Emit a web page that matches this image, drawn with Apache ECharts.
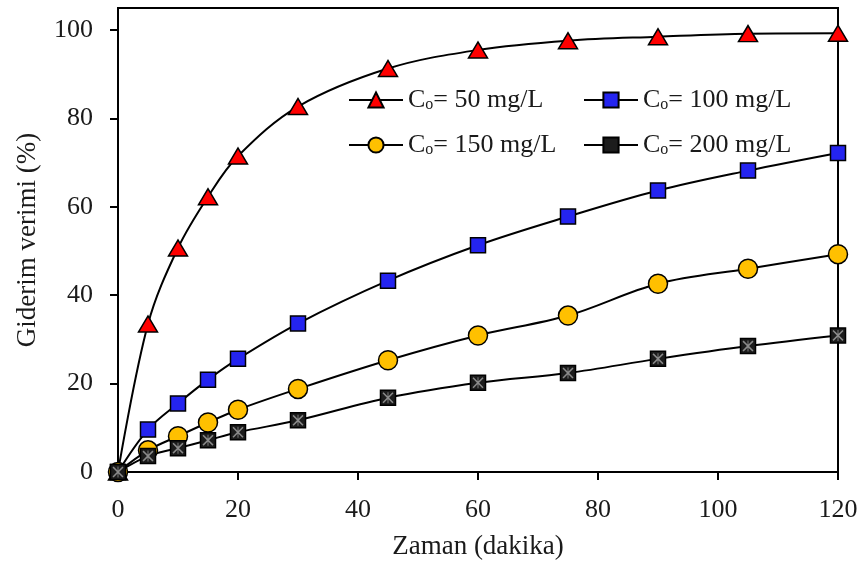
<!DOCTYPE html>
<html>
  <head>
    <meta charset="UTF-8" />
    <title>Giderim verimi</title>
    <script src="https://cdn.jsdelivr.net/npm/echarts@6/dist/echarts.min.js"></script>
    <style>
      html, body { margin: 0; padding: 0; background: #fff; }
      #main { width: 862px; height: 565px; }
    </style>
  </head>
  <body>
    <div id="main"></div>
    <script>
      // zaman (dakika)
      const times = [0, 5, 10, 15, 20, 30, 45, 60, 75, 90, 105, 120]
      // giderim verimi (%)
      const c50 = [0, 33.5, 50.7, 62.3, 71.5, 82.7, 91.3, 95.5, 97.6, 98.5, 99.2, 99.3]
      const c100 = [0, 9.6, 15.5, 20.9, 25.6, 33.6, 43.3, 51.3, 57.8, 63.7, 68.2, 72.2]
      const c150 = [0, 4.9, 8.1, 11.2, 14.1, 18.8, 25.3, 30.9, 35.4, 42.6, 46.0, 49.3]
      const c200 = [0, 3.6, 5.4, 7.2, 9.0, 11.7, 16.8, 20.2, 22.4, 25.6, 28.5, 30.9]
      const names = ['C0= 50 mg/L', 'C0= 100 mg/L', 'C0= 150 mg/L', 'C0= 200 mg/L']
      const xTicks = [0, 20, 40, 60, 80, 100, 120]
      const yTicks = [0, 20, 40, 60, 80, 100]

      const font = '"Liberation Serif", "Times New Roman", serif'

      let pairs = function (ys) {
        return times.map((t, i) => [t, ys[i]])
      }

      let lineSeries = function (name, ys, symbol, size, color) {
        return {
          name: name,
          type: 'line',
          data: pairs(ys),
          smooth: 0.35,
          symbol: symbol,
          symbolSize: size,
          showAllSymbol: true,
          lineStyle: { color: '#000', width: 2 },
          itemStyle: { color: color, borderColor: '#000', borderWidth: 1.5 },
          z: 3,
        }
      }

      const legendText = {
        fontFamily: font,
        fontSize: 26,
        color: '#1a1a1a',
        rich: {
          c: { fontFamily: font, fontSize: 26, color: '#1a1a1a' },
          s: { fontFamily: font, fontSize: 16, color: '#1a1a1a', padding: [9, 0, 0, 0] },
        },
      }
      let legendFormat = function (name) {
        return '{c|C}{s|o}{c|' + name.slice(2) + '}'
      }

      let legend = function (data, left) {
        return {
          data: data,
          orient: 'vertical',
          left: left,
          top: 87,
          itemWidth: 54,
          itemHeight: 19,
          itemGap: 19,
          padding: 0,
          selectedMode: false,
          textStyle: legendText,
          formatter: legendFormat,
        }
      }

      const myChart = echarts.init(document.getElementById('main'))
      myChart.setOption({
        animation: false,
        backgroundColor: '#fff',
        grid: {
          left: 118,
          right: 24,
          top: 8,
          bottom: 89,
          show: true,
          borderColor: '#000',
          borderWidth: 2,
        },
        legend: [legend([names[0], names[2]], 348), legend([names[1], names[3]], 583)],
        xAxis: {
          type: 'value',
          min: 0,
          max: 120,
          interval: 20,
          name: 'Zaman (dakika)',
          nameLocation: 'middle',
          nameGap: 61,
          nameTextStyle: { fontFamily: font, fontSize: 27, color: '#1a1a1a' },
          axisLine: { onZero: false, lineStyle: { color: '#000', width: 2 } },
          axisTick: { show: true, length: 8, lineStyle: { color: '#000', width: 2 }, customValues: xTicks },
          axisLabel: { fontFamily: font, fontSize: 26, color: '#1a1a1a', margin: 25, customValues: xTicks },
          splitLine: { show: false },
        },
        yAxis: {
          type: 'value',
          min: 0,
          max: 105,
          interval: 20,
          name: 'Giderim verimi (%)',
          nameLocation: 'middle',
          nameGap: 77,
          nameTextStyle: { fontFamily: font, fontSize: 27, color: '#1a1a1a' },
          axisLine: { onZero: false, lineStyle: { color: '#000', width: 2 } },
          axisTick: { show: true, length: 8, lineStyle: { color: '#000', width: 2 }, customValues: yTicks },
          axisLabel: { fontFamily: font, fontSize: 26, color: '#1a1a1a', margin: 25, customValues: yTicks },
          splitLine: { show: false },
        },
        series: [
          lineSeries(names[0], c50, 'triangle', [19, 16], '#ff0000'),
          lineSeries(names[1], c100, 'rect', 15, '#2424f0'),
          lineSeries(names[2], c150, 'circle', 19, '#ffc000'),
          lineSeries(names[3], c200, 'rect', 15, '#1c1c1c'),
          {
            // gray star drawn over the dark squares
            type: 'line',
            data: pairs(c200),
            symbol: 'path://M1,0L5,4L9,0L10,1L6,5L10,9L9,10L5,6L1,10L0,9L4,5L0,1Z M4.6,0H5.4V10H4.6Z',
            symbolSize: 11,
            showAllSymbol: true,
            lineStyle: { opacity: 0 },
            itemStyle: { color: '#8a8a8a', borderWidth: 0 },
            silent: true,
            z: 4,
          },
        ],
      })
    </script>
  </body>
</html>
